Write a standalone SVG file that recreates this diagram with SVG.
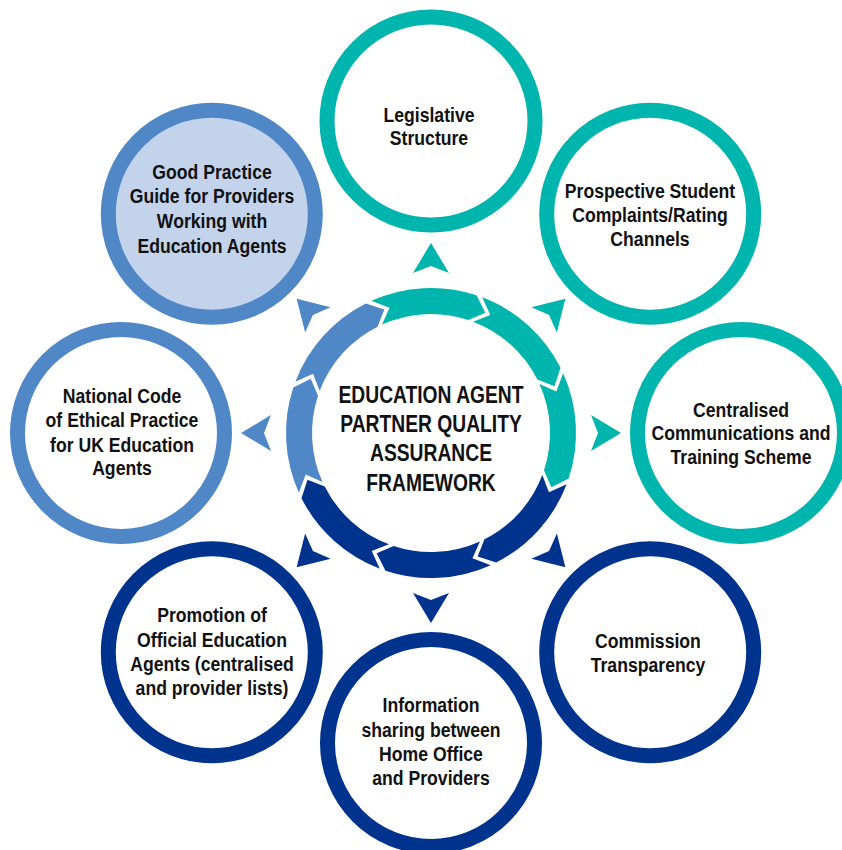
<svg xmlns="http://www.w3.org/2000/svg" width="842" height="850" viewBox="0 0 842 850">
<style>
.t{font-family:"Liberation Sans",Arial,sans-serif;font-weight:bold;font-size:21px;text-anchor:middle;fill:#111}
.c{font-size:23.5px}
.teal{fill:#00b5ad}
.dark{fill:#00338d}
.light{fill:#4f87c7}
.ring{stroke-width:15}
.rteal{fill:#fff;stroke:#00b5ad}
.rdark{fill:#fff;stroke:#00338d}
.rlight{fill:#fff;stroke:#4f87c7}
.rpale{fill:#c3d3eb;stroke:#4f87c7}
</style>
<defs>
<path id="seg" d="M371.33,300.85 A145,145 0 0 1 476.53,295.34 L485.32,312.70 L468.37,320.02 A119,119 0 0 0 382.03,324.54 L389.55,307.68 Z"/>
<path id="dart" d="M431,243 L449,273 L431,266 L413,273 Z"/>
</defs>
<g id="satellites">
<g id="n-legislative"><circle class="ring rteal" cx="431" cy="121" r="104"/><g transform="translate(429 0) scale(0.84 1)"><text class="t" x="0" y="121.7">Legislative</text><text class="t" x="0" y="145">Structure</text></g></g>
<g id="n-prospective"><circle class="ring rteal" cx="650.2" cy="213.8" r="103.5"/><g transform="translate(650 0) scale(0.84 1)"><text class="t" x="0" y="198">Prospective Student</text><text class="t" x="0" y="222.5">Complaints/Rating</text><text class="t" x="0" y="246.5">Channels</text></g></g>
<g id="n-centralised"><circle class="ring rteal" cx="741" cy="433" r="103.5"/><g transform="translate(741 0) scale(0.84 1)"><text class="t" x="0" y="417">Centralised</text><text class="t" x="0" y="440.5">Communications and</text><text class="t" x="0" y="464.5">Training Scheme</text></g></g>
<g id="n-commission"><circle class="ring rdark" cx="650.2" cy="652.2" r="103.5"/><g transform="translate(648 0) scale(0.84 1)"><text class="t" x="0" y="648">Commission</text><text class="t" x="0" y="672">Transparency</text></g></g>
<g id="n-information"><circle class="ring rdark" cx="431" cy="743" r="103.5"/><g transform="translate(431 0) scale(0.84 1)"><text class="t" x="0" y="712">Information</text><text class="t" x="0" y="737">sharing between</text><text class="t" x="0" y="761">Home Office</text><text class="t" x="0" y="785">and Providers</text></g></g>
<g id="n-promotion"><circle class="ring rdark" cx="211.8" cy="652.2" r="103.5"/><g transform="translate(212 0) scale(0.84 1)"><text class="t" x="0" y="622">Promotion of</text><text class="t" x="0" y="647">Official Education</text><text class="t" x="0" y="671">Agents (centralised</text><text class="t" x="0" y="695">and provider lists)</text></g></g>
<g id="n-national"><circle class="ring rlight" cx="121" cy="433" r="103.5"/><g transform="translate(122 0) scale(0.84 1)"><text class="t" x="0" y="403">National Code</text><text class="t" x="0" y="427">of Ethical Practice</text><text class="t" x="0" y="452">for UK Education</text><text class="t" x="0" y="475">Agents</text></g></g>
<g id="n-goodpractice"><circle class="ring rpale" cx="211.8" cy="213.8" r="103.5"/><g transform="translate(212 0) scale(0.84 1)"><text class="t" x="0" y="179">Good Practice</text><text class="t" x="0" y="203">Guide for Providers</text><text class="t" x="0" y="228">Working with</text><text class="t" x="0" y="253">Education Agents</text></g></g>
</g>
<g id="connectors">
<use href="#dart" class="teal"/>
<use href="#dart" class="teal" transform="rotate(45 431 433)"/>
<use href="#dart" class="teal" transform="rotate(90 431 433)"/>
<use href="#dart" class="dark" transform="rotate(135 431 433)"/>
<use href="#dart" class="dark" transform="rotate(180 431 433)"/>
<use href="#dart" class="dark" transform="rotate(225 431 433)"/>
<use href="#dart" class="light" transform="rotate(270 431 433)"/>
<use href="#dart" class="light" transform="rotate(315 431 433)"/>
</g>
<g id="center">
<use href="#seg" class="teal"/>
<use href="#seg" class="teal" transform="rotate(45 431 433)"/>
<use href="#seg" class="teal" transform="rotate(90 431 433)"/>
<use href="#seg" class="dark" transform="rotate(135 431 433)"/>
<use href="#seg" class="dark" transform="rotate(180 431 433)"/>
<use href="#seg" class="dark" transform="rotate(225 431 433)"/>
<use href="#seg" class="light" transform="rotate(270 431 433)"/>
<use href="#seg" class="light" transform="rotate(315 431 433)"/>
<g transform="translate(431 0) scale(0.82 1)">
<text class="t c" x="0" y="403">EDUCATION AGENT</text>
<text class="t c" x="0" y="432">PARTNER QUALITY</text>
<text class="t c" x="0" y="461">ASSURANCE</text>
<text class="t c" x="0" y="491">FRAMEWORK</text>
</g>
</g>
</svg>
